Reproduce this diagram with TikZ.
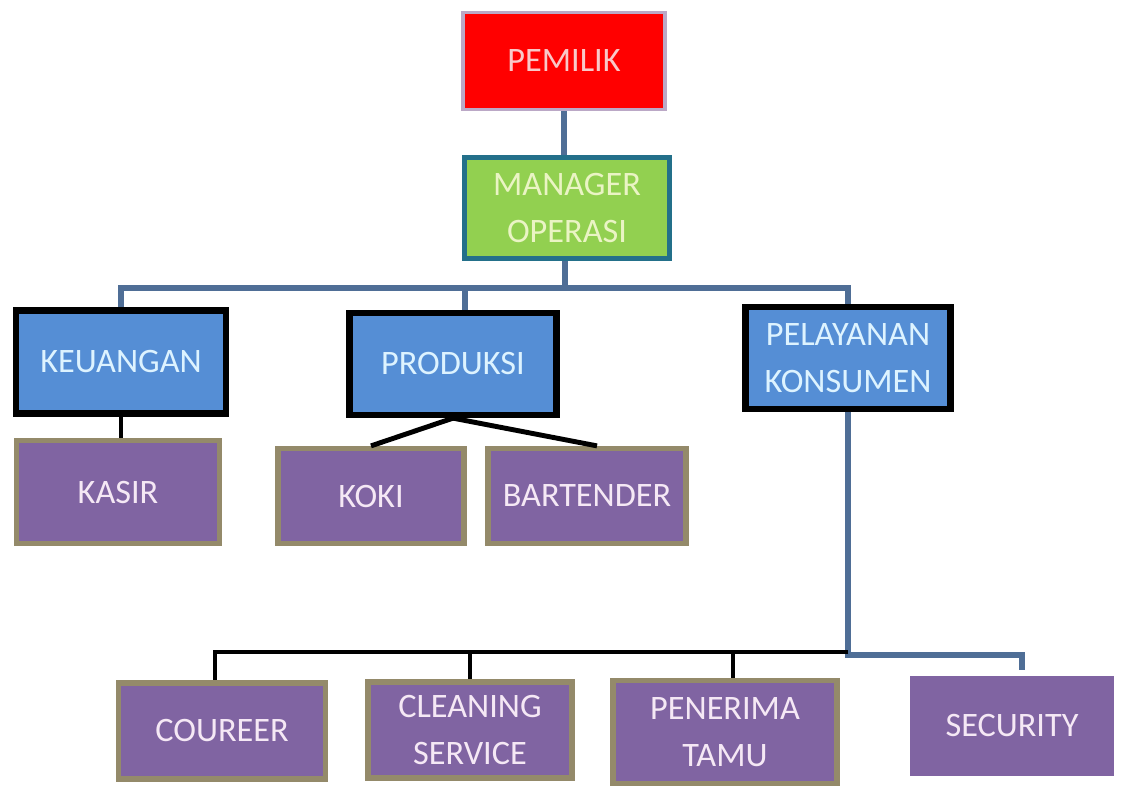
\documentclass[tikz,border=0pt]{standalone}
\usepackage{fontspec}
\setmainfont{Carlito}
\definecolor{boxred}{HTML}{FF0000}
\definecolor{redline}{HTML}{BBA8C6}
\definecolor{redtext}{HTML}{F9C8C8}
\definecolor{boxgreen}{HTML}{92D050}
\definecolor{greenline}{HTML}{23708A}
\definecolor{greentext}{HTML}{EAF4C4}
\definecolor{boxblue}{HTML}{558ED5}
\definecolor{bluetext}{HTML}{DDF3FF}
\definecolor{boxpurple}{HTML}{8064A2}
\definecolor{purpleline}{HTML}{948A6A}
\definecolor{purpletext}{HTML}{F5E8F5}
\definecolor{steel}{HTML}{4F6E96}
\tikzset{
  unit/.style={rectangle,align=center,font=\fontsize{19.5}{26.5}\selectfont},
  top/.style={unit,fill=boxred,draw=redline,line width=2pt,text=redtext},
  mgr/.style={unit,fill=boxgreen,draw=greenline,line width=3.2pt,text=greentext},
  dept/.style={unit,fill=boxblue,draw=black,line width=3.6pt,text=bluetext},
  staff/.style={unit,fill=boxpurple,draw=purpleline,line width=3pt,text=purpletext},
  blueline/.style={draw=steel,line width=3pt},
  blackline/.style={draw=black,line width=2.8pt}
}
\begin{document}
\begin{tikzpicture}[x=0.02cm,y=-0.02cm]
        \useasboundingbox (0,0) rectangle (1126,787);
        \node[top,minimum width=4.04cm,minimum height=1.94cm] (pemilik) at (564,61) {PEMILIK};
        \node[mgr,minimum width=4.1cm,minimum height=2.02cm] (manager) at (567,208) {MANAGER\\OPERASI};
        \node[dept,minimum width=4.2cm,minimum height=2.06cm] (keuangan) at (121,362) {KEUANGAN};
        \node[dept,minimum width=4.14cm,minimum height=2.04cm] (produksi) at (453,364) {PRODUKSI};
        \node[dept,minimum width=4.1cm,minimum height=2.04cm] (pelayanan) at (848,358) {PELAYANAN\\KONSUMEN};
        \node[staff,minimum width=4.06cm,minimum height=2.06cm] (kasir) at (118,492) {KASIR};
        \node[staff,minimum width=3.72cm,minimum height=1.9cm] (koki) at (371,496) {KOKI};
        \node[staff,minimum width=3.96cm,minimum height=1.9cm] (bartender) at (587,496) {BARTENDER};
        \node[staff,minimum width=4.14cm,minimum height=1.92cm] (coureer) at (222,731) {COUREER};
        \node[staff,minimum width=4.08cm,minimum height=1.92cm] (cleaning) at (470,730) {CLEANING\\SERVICE};
        \node[staff,minimum width=4.48cm,minimum height=2.06cm] (penerima) at (725,732) {PENERIMA\\TAMU};
        \node[staff,draw=boxpurple,minimum width=3.96cm,minimum height=1.9cm] (security) at (1012,726) {SECURITY};
        % lines from the owner down
        \coordinate (hub) at (565,288);
        \draw[blueline] (pemilik.south) -- (pemilik.south |- manager.north);
        \draw[blueline] (manager.south -| hub) -- (hub);
        \draw[blueline] (hub) -| (keuangan.north);
        \draw[blueline] (hub) -| ([xshift=0.24cm]produksi.north);
        \draw[blueline] (hub) -| (pelayanan.north);
        \draw[blackline] (keuangan.south) -- (keuangan.south |- kasir.north);
        \draw[blackline] (produksi.south) -- (koki.north);
        \draw[blackline] (produksi.south) -- ([xshift=0.2cm]bartender.north);
        % customer service staff
        \coordinate (split) at (848,655);
        \coordinate (bus) at (848,652);
        \draw[blueline] (pelayanan.south) -- (split) -| ([xshift=0.2cm,yshift=0.12cm]security.north);
        \draw[blackline] (bus) -| ([xshift=-0.14cm]coureer.north);
        \draw[blackline] (bus) -| (cleaning.north);
        \draw[blackline] (bus) -| ([xshift=0.16cm]penerima.north);
\end{tikzpicture}
\end{document}
